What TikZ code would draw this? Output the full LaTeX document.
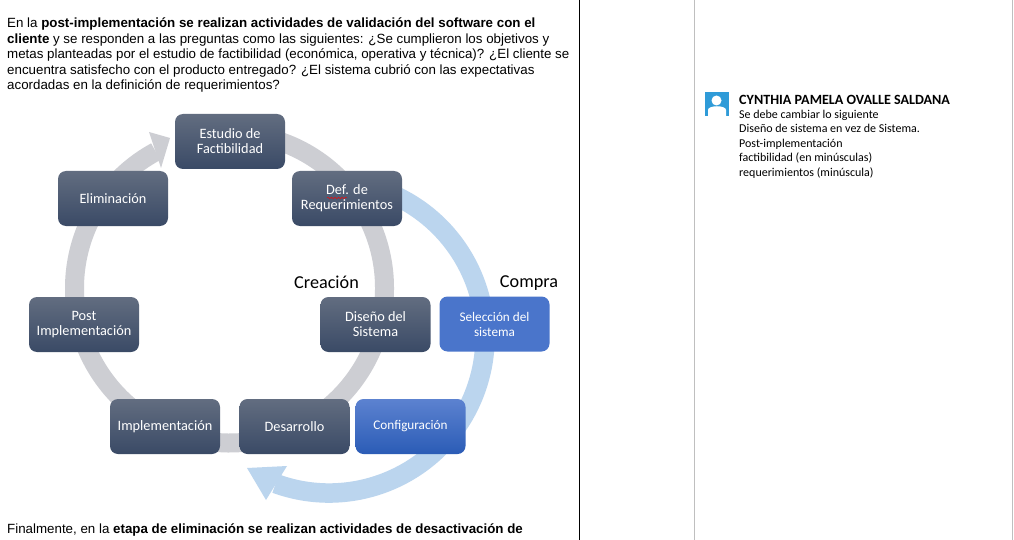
\documentclass[tikz,border=0pt]{standalone}
\usepackage{fontspec}
\setmainfont{Liberation Sans}
\newfontfamily\calibri{Carlito}
\usetikzlibrary{decorations.pathmorphing}
\definecolor{ringgray}{HTML}{CDCED3}
\definecolor{ringblue}{HTML}{BBD5EE}
\definecolor{boxtop}{HTML}{626D80}
\definecolor{boxbottom}{HTML}{3A4A66}
\definecolor{bluetop}{HTML}{5C82D0}
\definecolor{bluebottom}{HTML}{2B5CB6}
\definecolor{flatblue}{HTML}{4A75CB}
\definecolor{iconblue}{HTML}{2F9BD8}
\tikzset{
  stage/.style={rounded corners=8pt, minimum width=110pt, minimum height=55pt, inner sep=0pt,
    top color=boxtop, bottom color=boxbottom, text=white, align=center,
    font=\calibri\fontsize{14.3}{15}\selectfont},
  bluestage/.style={stage, top color=bluetop, bottom color=bluebottom,
    font=\calibri\fontsize{13.2}{15}\selectfont},
  para/.style={anchor=north west, inner sep=0pt, align=left, font=\fontsize{13.33}{15.4}\selectfont},
  note/.style={anchor=north west, inner sep=0pt, align=left, font=\calibri\fontsize{12}{14.6}\selectfont},
  side/.style={font=\calibri\fontsize{18.2}{20}\selectfont, inner sep=0pt}
}
\begin{document}
\begin{tikzpicture}[x=1pt,y=-1pt]
  \useasboundingbox (0,0) rectangle (1014,540);
  \fill[white] (0,0) rectangle (1014,540);
  % page edges
  \draw[black] (579.5,0) -- (579.5,540);
  \draw[gray!50] (694.5,0) -- (694.5,540);
  \draw[gray!50] (1012.5,0) -- (1012.5,540);
  % text above and below the cycle
  \node[para] (intro) at (7,18) {En la \textbf{post-implementación se realizan actividades de validación del software con el}\\
    \textbf{cliente} y se responden a las preguntas como las siguientes: ¿Se cumplieron los objetivos y\\
    metas planteadas por el estudio de factibilidad (económica, operativa y técnica)? ¿El cliente se\\
    encuentra satisfecho con el producto entregado? ¿El sistema cubrió con las expectativas\\
    acordadas en la definición de requerimientos?};
  \node[para] (closing) at (7,524) {Finalmente, en la \textbf{etapa de eliminación se realizan actividades de desactivación de}};
  % grey ring
  \coordinate (graycentre) at (229.5,288);
  \draw[ringgray, line width=19pt] ([shift={(85:155pt)}]graycentre) arc[start angle=85, end angle=-241.6, radius=155pt];
  \fill[ringgray] (149,132) -- (170,138) -- (161,168) -- cycle;
  % blue arc
  \coordinate (bluecentre) at (329,337);
  \draw[ringblue, line width=19.5pt] ([shift={(70:156pt)}]bluecentre) arc[start angle=70, end angle=-110, radius=156pt];
  \fill[ringblue] (247,468) -- (287,466) -- (266,500) -- cycle;
  % stages
  \node[stage] (estudio) at (230,141.5) {Estudio de\\Factibilidad};
  \node[stage] (eliminacion) at (113,198.5) {Eliminación};
  \node[stage] (reqs) at (347,198.5) {Def. de\\Requerimientos};
  \node[stage] (post) at (84,324.5) {Post\\Implementación};
  \node[stage] (diseno) at (375.5,324.5) {Diseño del\\Sistema};
  \node[stage] (implementacion) at (165,426.5) {Implementación};
  \node[stage] (desarrollo) at (294.5,426.5) {Desarrollo};
  \node[bluestage, top color=flatblue, bottom color=flatblue] (seleccion) at (494.5,324) {Selección del\\sistema};
  \node[bluestage] (configuracion) at (410.5,426.5) {Configuración};
  \draw[red, decorate, decoration={snake, amplitude=0.8pt, segment length=3.5pt}] (327,198) -- (347,198);
  \node[side] (creacion) at (326.5,282) {Creación};
  \node[side] (compra) at (529,283.5) {Compra};
  % comment
  \fill[iconblue] (705,92) rectangle (729,116);
  \fill[white] (716.5,100.5) circle (5);
  \fill[white] (708,116) -- (708,110) .. controls (708,105) and (726,105) .. (726,110) -- (726,116) -- cycle;
  \node[note, font=\calibri\bfseries\fontsize{14.1}{15}\selectfont] (autor) at (739,95) {CYNTHIA PAMELA OVALLE SALDANA};
  \node[note] (comentario) at (739,109.5) {Se debe cambiar lo siguiente\\
    Diseño de sistema en vez de Sistema.\\
    Post-implementación\\
    factibilidad (en minúsculas)\\
    requerimientos (minúscula)};
\end{tikzpicture}
\end{document}
